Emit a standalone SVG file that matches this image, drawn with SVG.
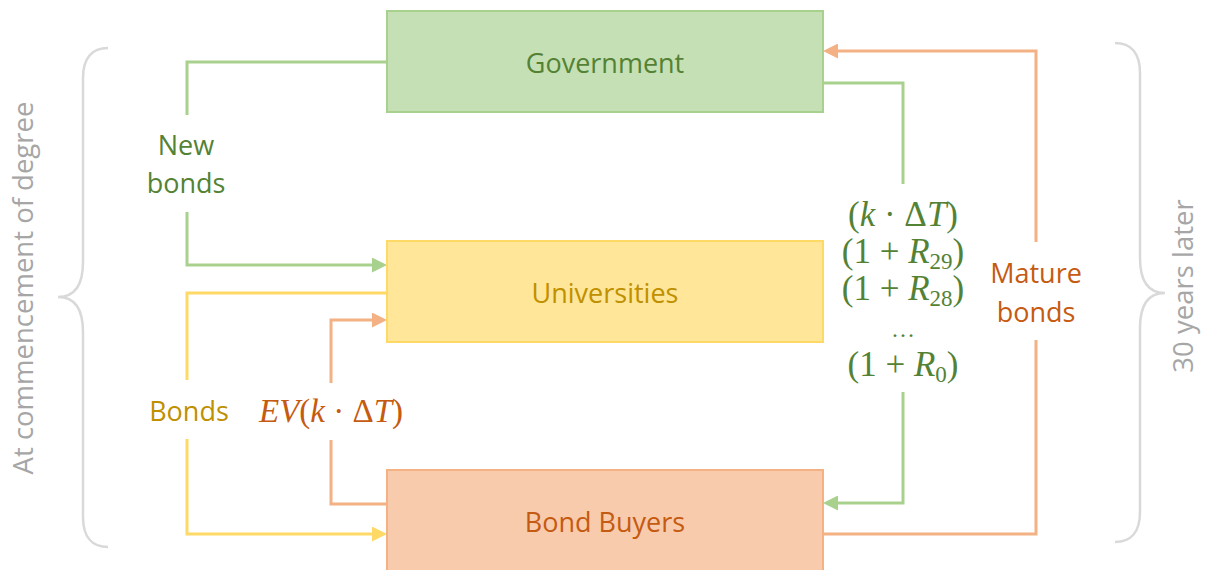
<svg xmlns="http://www.w3.org/2000/svg" width="1212" height="570" viewBox="0 0 1212 570">
  <style>
    .lbl { font-family: "Open Sans", "Liberation Sans", sans-serif; font-size: 27px; text-anchor: middle; }
    .math { font-family: "Liberation Serif", "DejaVu Serif", serif; font-size: 33px; text-anchor: middle; }
    .stack { font-size: 35px; }
    .it { font-style: italic; }
    .sub { font-size: 23px; }
    .green { fill: #548235; }
    .gold { fill: #bf9000; }
    .rust { fill: #c55a11; }
    .note { font-family: "Open Sans", "Liberation Sans", sans-serif; font-size: 27.5px; fill: #a6a6a6; text-anchor: middle; }
    .brace { fill: none; stroke: #d9d9d9; stroke-width: 2.5; }
    .box { stroke-width: 2; }
    .wire { fill: none; stroke-width: 3; }
    .w-green { stroke: #a9d18e; }
    .w-gold { stroke: #ffd966; }
    .w-rust { stroke: #f4b183; }
  </style>
  <defs>
    <marker id="arrowGreen" markerUnits="userSpaceOnUse" markerWidth="15" markerHeight="15" refX="8" refY="7.5" orient="auto">
      <path d="M0,0 L15,7.5 L0,15 Z" fill="#a9d18e"/>
    </marker>
    <marker id="arrowGold" markerUnits="userSpaceOnUse" markerWidth="15" markerHeight="15" refX="8" refY="7.5" orient="auto">
      <path d="M0,0 L15,7.5 L0,15 Z" fill="#ffd966"/>
    </marker>
    <marker id="arrowRust" markerUnits="userSpaceOnUse" markerWidth="15" markerHeight="15" refX="8" refY="7.5" orient="auto">
      <path d="M0,0 L15,7.5 L0,15 Z" fill="#f4b183"/>
    </marker>
  </defs>

  <rect width="1212" height="570" fill="#ffffff"/>

  <!-- side braces with time annotations -->
  <g id="brace-start">
    <path class="brace" d="M108,48 C92,48 83,58 83,78 V262 C83,285 75,297 58,297 C75,297 83,309 83,332 V517 C83,537 92,547 108,547"/>
    <text class="note" transform="translate(33,288) rotate(-90)">At commencement of degree</text>
  </g>
  <g id="brace-later">
    <path class="brace" d="M1115,43 C1131,43 1140,53 1140,73 V258 C1140,281 1148,293 1165,293 C1148,293 1140,305 1140,328 V512 C1140,532 1131,542 1115,542"/>
    <text class="note" transform="translate(1193,286) rotate(-90)">30 years later</text>
  </g>

  <!-- connectors -->
  <g id="connectors">
    <path class="wire w-green" d="M387,62 H187 V115"/>
    <path class="wire w-green" d="M187,212 V265 H380" marker-end="url(#arrowGreen)"/>
    <path class="wire w-gold" d="M387,293 H187 V380"/>
    <path class="wire w-gold" d="M187,439 V534 H380" marker-end="url(#arrowGold)"/>
    <path class="wire w-rust" d="M387,504 H331 V440"/>
    <path class="wire w-rust" d="M331,383 V320 H380" marker-end="url(#arrowRust)"/>
    <path class="wire w-green" d="M823,83 H903 V184"/>
    <path class="wire w-green" d="M903,392 V503 H830" marker-end="url(#arrowGreen)"/>
    <path class="wire w-rust" d="M823,534 H1036 V340"/>
    <path class="wire w-rust" d="M1036,242 V51 H830" marker-end="url(#arrowRust)"/>

    <text class="lbl green" x="186" y="155">New</text>
    <text class="lbl green" x="186" y="193">bonds</text>
    <text class="lbl gold" x="189" y="421">Bonds</text>
    <text class="lbl rust" x="1036" y="283">Mature</text>
    <text class="lbl rust" x="1036" y="322">bonds</text>

    <text class="math rust" x="331" y="422"><tspan class="it">EV</tspan>(<tspan class="it">k</tspan> · Δ<tspan class="it">T</tspan>)</text>

    <g class="green">
      <text class="math stack" x="903" y="226">(<tspan class="it">k</tspan> · Δ<tspan class="it">T</tspan>)</text>
      <text class="math stack" x="903" y="263">(1 + <tspan class="it">R</tspan><tspan class="sub" dy="6">29</tspan><tspan dy="-6">)</tspan></text>
      <text class="math stack" x="903" y="300">(1 + <tspan class="it">R</tspan><tspan class="sub" dy="6">28</tspan><tspan dy="-6">)</tspan></text>
      <text class="math" x="903" y="337" style="font-size:24px">…</text>
      <text class="math stack" x="903" y="376">(1 + <tspan class="it">R</tspan><tspan class="sub" dy="6">0</tspan><tspan dy="-6">)</tspan></text>
    </g>
  </g>

  <!-- nodes -->
  <g id="government">
    <rect class="box" x="387" y="11" width="436" height="101" fill="#c5e0b4" stroke="#a9d18e"/>
    <text class="lbl green" x="605" y="73">Government</text>
  </g>
  <g id="universities">
    <rect class="box" x="387" y="241" width="436" height="101" fill="#ffe699" stroke="#ffd966"/>
    <text class="lbl gold" x="605" y="303">Universities</text>
  </g>
  <g id="bond-buyers">
    <rect class="box" x="387" y="470" width="436" height="110" fill="#f8cbad" stroke="#f4b183"/>
    <text class="lbl rust" x="605" y="532">Bond Buyers</text>
  </g>
</svg>
